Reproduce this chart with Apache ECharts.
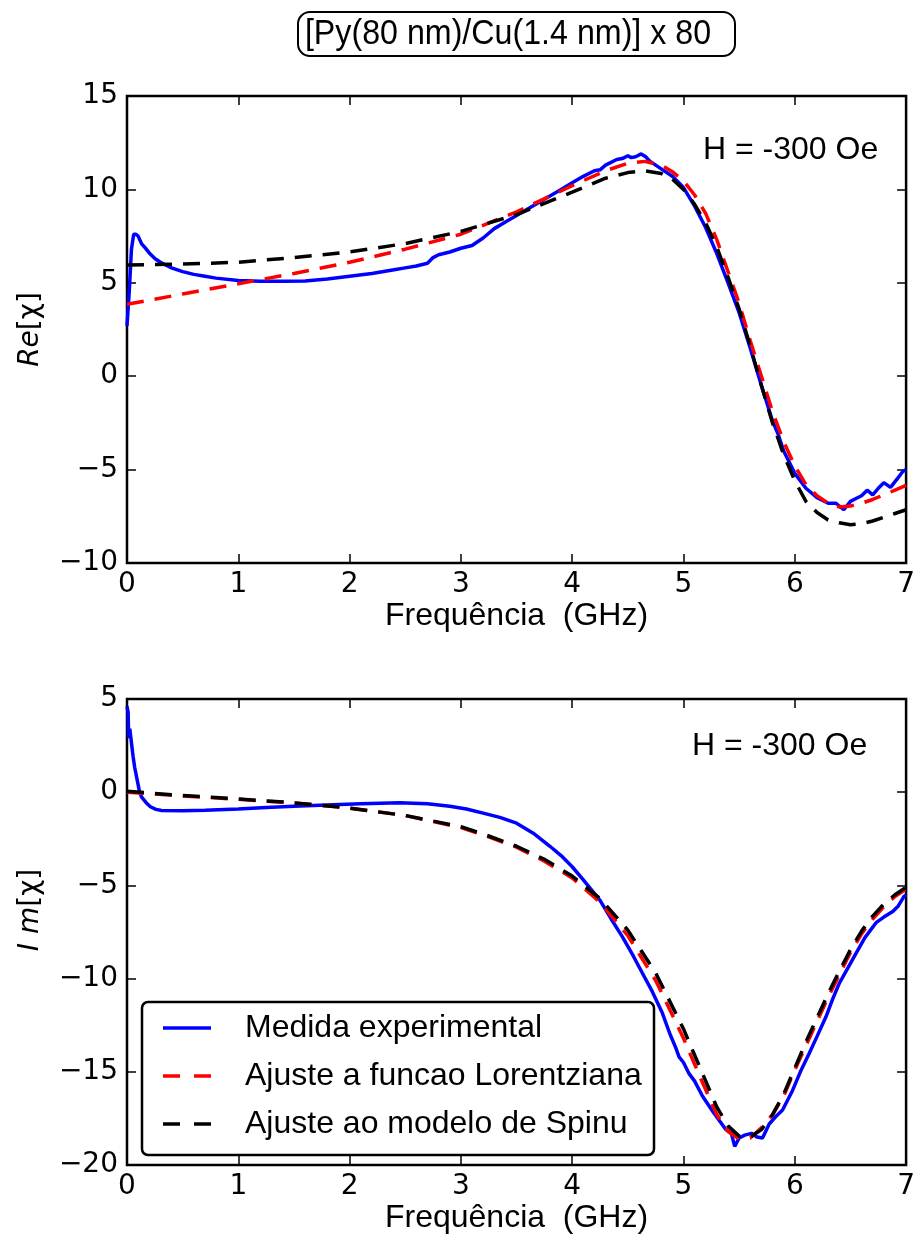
<!DOCTYPE html>
<html>
<head>
<meta charset="utf-8">
<script src="https://cdn.jsdelivr.net/npm/echarts@6/dist/echarts.min.js"></script>
<style>
  html, body { margin: 0; padding: 0; background: #ffffff; }
  #chart { width: 918px; height: 1243px; }
</style>
</head>
<body>
<div id="chart"></div>
<script>
// ---- Real part, Re[chi] ----
const reExpFreq = [0.0, 0.02, 0.04, 0.06, 0.08, 0.10, 0.13, 0.16, 0.2, 0.25, 0.3, 0.4, 0.5, 0.6, 0.7, 0.8, 1.0, 1.2, 1.4, 1.6, 1.8, 2.0, 2.2, 2.4, 2.5, 2.6, 2.7, 2.75, 2.8, 2.9, 3.0, 3.1, 3.2, 3.3, 3.4, 3.5, 3.6, 3.7, 3.8, 3.9, 4.0, 4.1, 4.2, 4.25, 4.3, 4.4, 4.45, 4.5, 4.53, 4.57, 4.62, 4.66, 4.7, 4.8, 4.9, 5.0, 5.05, 5.1, 5.2, 5.3, 5.4, 5.5, 5.6, 5.7, 5.8, 5.85, 5.9, 6.0, 6.1, 6.2, 6.3, 6.37, 6.44, 6.5, 6.55, 6.6, 6.65, 6.7, 6.75, 6.8, 6.86, 6.92, 6.97, 7.0];
const reExp = [2.7, 4.5, 6.8, 7.6, 7.6, 7.5, 7.1, 6.9, 6.6, 6.3, 6.1, 5.8, 5.6, 5.45, 5.35, 5.25, 5.12, 5.08, 5.08, 5.1, 5.2, 5.35, 5.5, 5.7, 5.8, 5.9, 6.05, 6.35, 6.5, 6.65, 6.85, 7.0, 7.4, 7.9, 8.25, 8.6, 8.95, 9.3, 9.65, 10.0, 10.35, 10.7, 11.0, 11.05, 11.3, 11.6, 11.65, 11.8, 11.7, 11.75, 11.9, 11.75, 11.5, 11.1, 10.7, 10.1, 9.6, 9.1, 7.95, 6.55, 5.0, 3.4, 1.5, -0.5, -2.4, -3.1, -4.0, -5.2, -6.0, -6.5, -6.8, -6.8, -7.15, -6.7, -6.55, -6.4, -6.1, -6.35, -6.0, -5.7, -5.95, -5.5, -5.1, -5.0];

const reFitFreq = [0.0, 0.5, 1.0, 1.5, 2.0, 2.5, 3.0, 3.5, 4.0, 4.3, 4.5, 4.65, 4.8, 4.9, 5.0, 5.1, 5.2, 5.3, 5.4, 5.5, 5.6, 5.7, 5.8, 5.9, 6.0, 6.1, 6.2, 6.3, 6.4, 6.5, 6.6, 6.7, 6.8, 6.9, 7.0];
const reLorentz = [3.85, 4.4, 4.95, 5.5, 6.1, 6.8, 7.6, 8.8, 10.2, 11.0, 11.4, 11.5, 11.3, 10.95, 10.45, 9.7, 8.7, 7.3, 5.6, 3.9, 1.9, 0.0, -1.9, -3.5, -4.8, -5.8, -6.4, -6.8, -7.0, -6.95, -6.8, -6.6, -6.35, -6.1, -5.85];
const reSpinu = [5.95, 6.0, 6.1, 6.35, 6.65, 7.1, 7.75, 8.65, 9.85, 10.6, 10.9, 11.0, 10.85, 10.55, 10.0, 9.2, 8.2, 6.9, 5.3, 3.6, 1.6, -0.5, -2.5, -4.2, -5.6, -6.7, -7.3, -7.7, -7.85, -7.95, -7.9, -7.75, -7.55, -7.35, -7.15];

// ---- Imaginary part, Im[chi] ----
const imExpFreq = [0.0, 0.01, 0.015, 0.025, 0.04, 0.055, 0.07, 0.09, 0.11, 0.13, 0.17, 0.21, 0.26, 0.31, 0.5, 0.7, 1.0, 1.25, 1.5, 1.85, 2.1, 2.45, 2.7, 2.9, 3.05, 3.2, 3.35, 3.5, 3.65, 3.8, 3.9, 4.0, 4.1, 4.25, 4.35, 4.45, 4.55, 4.63, 4.72, 4.81, 4.88, 4.93, 4.96, 5.0, 5.05, 5.1, 5.17, 5.26, 5.32, 5.38, 5.43, 5.46, 5.5, 5.55, 5.61, 5.66, 5.71, 5.77, 5.83, 5.89, 5.98, 6.05, 6.13, 6.2, 6.28, 6.34, 6.4, 6.48, 6.55, 6.63, 6.73, 6.8, 6.88, 6.93, 6.98, 7.0];
const imExp = [4.6, 4.3, 2.9, 3.4, 3.3, 1.9, 1.3, 0.7, 0.1, -0.25, -0.55, -0.78, -0.92, -0.98, -1.0, -0.97, -0.9, -0.82, -0.75, -0.67, -0.62, -0.56, -0.62, -0.75, -0.9, -1.12, -1.35, -1.66, -2.2, -2.9, -3.4, -4.0, -4.7, -5.8, -6.8, -7.75, -8.8, -9.7, -10.7, -11.85, -13.0, -13.7, -14.2, -14.5, -15.1, -15.5, -16.3, -17.1, -17.6, -18.1, -18.3, -19.0, -18.55, -18.4, -18.3, -18.5, -18.55, -17.8, -17.4, -17.05, -16.0, -15.0, -14.0, -13.1, -12.05, -11.1, -10.25, -9.4, -8.65, -7.8, -7.0, -6.7, -6.4, -6.1, -5.6, -5.5];

const imFitFreq = [0.0, 0.5, 1.0, 1.5, 2.0, 2.5, 3.0, 3.25, 3.5, 3.75, 4.0, 4.25, 4.5, 4.75, 5.0, 5.15, 5.3, 5.4, 5.5, 5.6, 5.7, 5.8, 5.9, 6.0, 6.1, 6.2, 6.3, 6.4, 6.5, 6.6, 6.7, 6.8, 6.9, 7.0];
const imLorentz = [0.0, -0.2, -0.38, -0.58, -0.85, -1.25, -1.9, -2.4, -2.95, -3.7, -4.6, -5.9, -7.7, -10.1, -13.2, -15.3, -17.3, -18.2, -18.6, -18.55, -18.0, -17.3, -16.3, -14.9, -13.6, -12.3, -11.0, -9.8, -8.6, -7.6, -6.8, -6.15, -5.6, -5.2];
const imSpinu = [0.05, -0.18, -0.36, -0.57, -0.85, -1.25, -1.85, -2.35, -2.9, -3.6, -4.5, -5.7, -7.4, -9.7, -12.7, -14.8, -16.9, -17.9, -18.45, -18.5, -18.1, -17.3, -16.2, -14.8, -13.4, -12.1, -10.8, -9.6, -8.45, -7.45, -6.65, -6.0, -5.5, -5.1];

// ---- axis ranges ----
const freqTicks = { min: 0, max: 7, step: 1 };
const reTicks = { min: -10, max: 15, step: 5 };
const imTicks = { min: -20, max: 5, step: 5 };

const seriesNames = ['Medida experimental', 'Ajuste a funcao Lorentziana', 'Ajuste ao modelo de Spinu'];
const titleText = '[Py(80 nm)/Cu(1.4 nm)] x 80';
const fieldText = 'H = -300 Oe';
const xName = 'Frequência  (GHz)';

const zip = (xs, ys) => xs.map((x, i) => [x, ys[i]]);

const TICK_FONT = 'DejaVu Sans';
const TEXT_FONT = 'Liberation Sans';
const BLUE = '#0000ff', RED = '#ff0000', BLACK = '#000000';
const SERIES_COLORS = [BLUE, RED, BLACK];
const SERIES_DASHED = [false, true, true];
const DASH = [17, 11];
const LW = 3.5;

const minusFmt = v => String(v).replace('-', '\u2212');

const tickStyle = { show: true, inside: true, length: 9, lineStyle: { color: '#000', width: 1.5 } };

function xAxes(gridIndex) {
  const base = {
    gridIndex, type: 'value', min: freqTicks.min, max: freqTicks.max, interval: freqTicks.step,
    splitLine: { show: false },
    axisLine: { show: false, onZero: false },
    axisTick: tickStyle
  };
  return [
    Object.assign({}, base, {
      position: 'bottom',
      axisLabel: { show: true, margin: 8, fontFamily: TICK_FONT, fontSize: 28, color: '#000', formatter: minusFmt },
      name: xName, nameLocation: 'middle', nameGap: 36,
      nameTextStyle: { fontFamily: TEXT_FONT, fontSize: 32, color: '#000' }
    }),
    Object.assign({}, base, { position: 'top', axisLabel: { show: false } })
  ];
}

function yAxes(gridIndex, ticks, nameRich, namePad) {
  const base = {
    gridIndex, type: 'value', min: ticks.min, max: ticks.max, interval: ticks.step,
    splitLine: { show: false },
    axisLine: { show: false, onZero: false },
    axisTick: tickStyle
  };
  return [
    Object.assign({}, base, {
      position: 'left',
      axisLabel: { show: true, margin: 9, fontFamily: TICK_FONT, fontSize: 28, color: '#000', formatter: minusFmt },
      name: nameRich, nameLocation: 'middle', nameGap: 82, nameRotate: 90,
      nameTextStyle: {
        color: '#000',
        padding: namePad,
        rich: {
          i: { fontFamily: TICK_FONT, fontStyle: 'italic', fontSize: 28, color: '#000' },
          n: { fontFamily: TICK_FONT, fontSize: 28, color: '#000' }
        }
      }
    }),
    Object.assign({}, base, { position: 'right', axisLabel: { show: false } })
  ];
}

function lineSeries(name, data, xi, yi, color, dashed, z) {
  return {
    name, type: 'line', data, xAxisIndex: xi, yAxisIndex: yi,
    showSymbol: false, symbol: 'none', smooth: false, z,
    lineStyle: { color, width: LW, type: dashed ? DASH : 'solid' },
    itemStyle: { color },
    emphasis: { disabled: true }, animation: false
  };
}

// legend box with line samples and labels, drawn in the lower panel
function legendGraphics() {
  const box = { x: 142, y: 1002, w: 512, h: 153 };
  const items = [{ type: 'rect', z: 8, shape: { x: box.x, y: box.y, width: box.w, height: box.h, r: 6 },
                   style: { fill: '#fff', stroke: '#000', lineWidth: 2.5 } }];
  seriesNames.forEach((name, i) => {
    const cy = 1028 + i * 48;
    items.push({ type: 'line', z: 9,
      shape: { x1: 163, y1: cy, x2: 211, y2: cy },
      style: { stroke: SERIES_COLORS[i], lineWidth: LW, lineDash: SERIES_DASHED[i] ? [17, 14] : null } });
    items.push({ type: 'text', z: 9, x: 245, y: cy,
      style: { text: name, font: '32px "Liberation Sans"', fill: '#000',
               align: 'left', verticalAlign: 'middle', textAlign: 'left', textVerticalAlign: 'middle' } });
  });
  return items;
}

const chart = echarts.init(document.getElementById('chart'), null, { renderer: 'canvas' });

const gridStyle = { show: true, borderColor: '#000', borderWidth: 2.5, backgroundColor: 'transparent', containLabel: false };

chart.setOption({
  animation: false,
  backgroundColor: '#ffffff',
  grid: [
    Object.assign({ left: 127, top: 96, width: 780, height: 467 }, gridStyle),
    Object.assign({ left: 127, top: 699, width: 780, height: 466 }, gridStyle)
  ],
  xAxis: [].concat(xAxes(0), xAxes(1)),
  yAxis: [].concat(
    yAxes(0, reTicks, '{i|Re}{n|[χ]}', 0),
    yAxes(1, imTicks, '{i|I m}{n|[χ]}', [0, 0, 0, 44])
  ),
  graphic: [
    {
      type: 'group', x: 0, y: 34, z: 10,
      children: [
        { type: 'rect', shape: { x: 298, y: -22, width: 437, height: 44, r: 12 },
          style: { fill: '#fff', stroke: '#000', lineWidth: 2 } },
        { type: 'text', scaleX: 0.92, x: 508, y: 0,
          style: { text: titleText, font: '35px "Liberation Sans"', fill: '#000',
                   align: 'center', verticalAlign: 'middle', textAlign: 'center', textVerticalAlign: 'middle' } }
      ]
    },
    { type: 'text', x: 703, y: 150, z: 10,
      style: { text: fieldText, font: '32px "Liberation Sans"', fill: '#000',
               align: 'left', verticalAlign: 'middle', textAlign: 'left', textVerticalAlign: 'middle' } },
    { type: 'text', x: 692, y: 746, z: 10,
      style: { text: fieldText, font: '32px "Liberation Sans"', fill: '#000',
               align: 'left', verticalAlign: 'middle', textAlign: 'left', textVerticalAlign: 'middle' } }
  ].concat(legendGraphics()),
  series: [
    lineSeries(seriesNames[0], zip(reExpFreq, reExp), 0, 0, BLUE, false, 2),
    lineSeries(seriesNames[1], zip(reFitFreq, reLorentz), 0, 0, RED, true, 3),
    lineSeries(seriesNames[2], zip(reFitFreq, reSpinu), 0, 0, BLACK, true, 4),
    lineSeries(seriesNames[0], zip(imExpFreq, imExp), 2, 2, BLUE, false, 2),
    lineSeries(seriesNames[1], zip(imFitFreq, imLorentz), 2, 2, RED, true, 3),
    lineSeries(seriesNames[2], zip(imFitFreq, imSpinu), 2, 2, BLACK, true, 4)
  ]
});
</script>
</body>
</html>
